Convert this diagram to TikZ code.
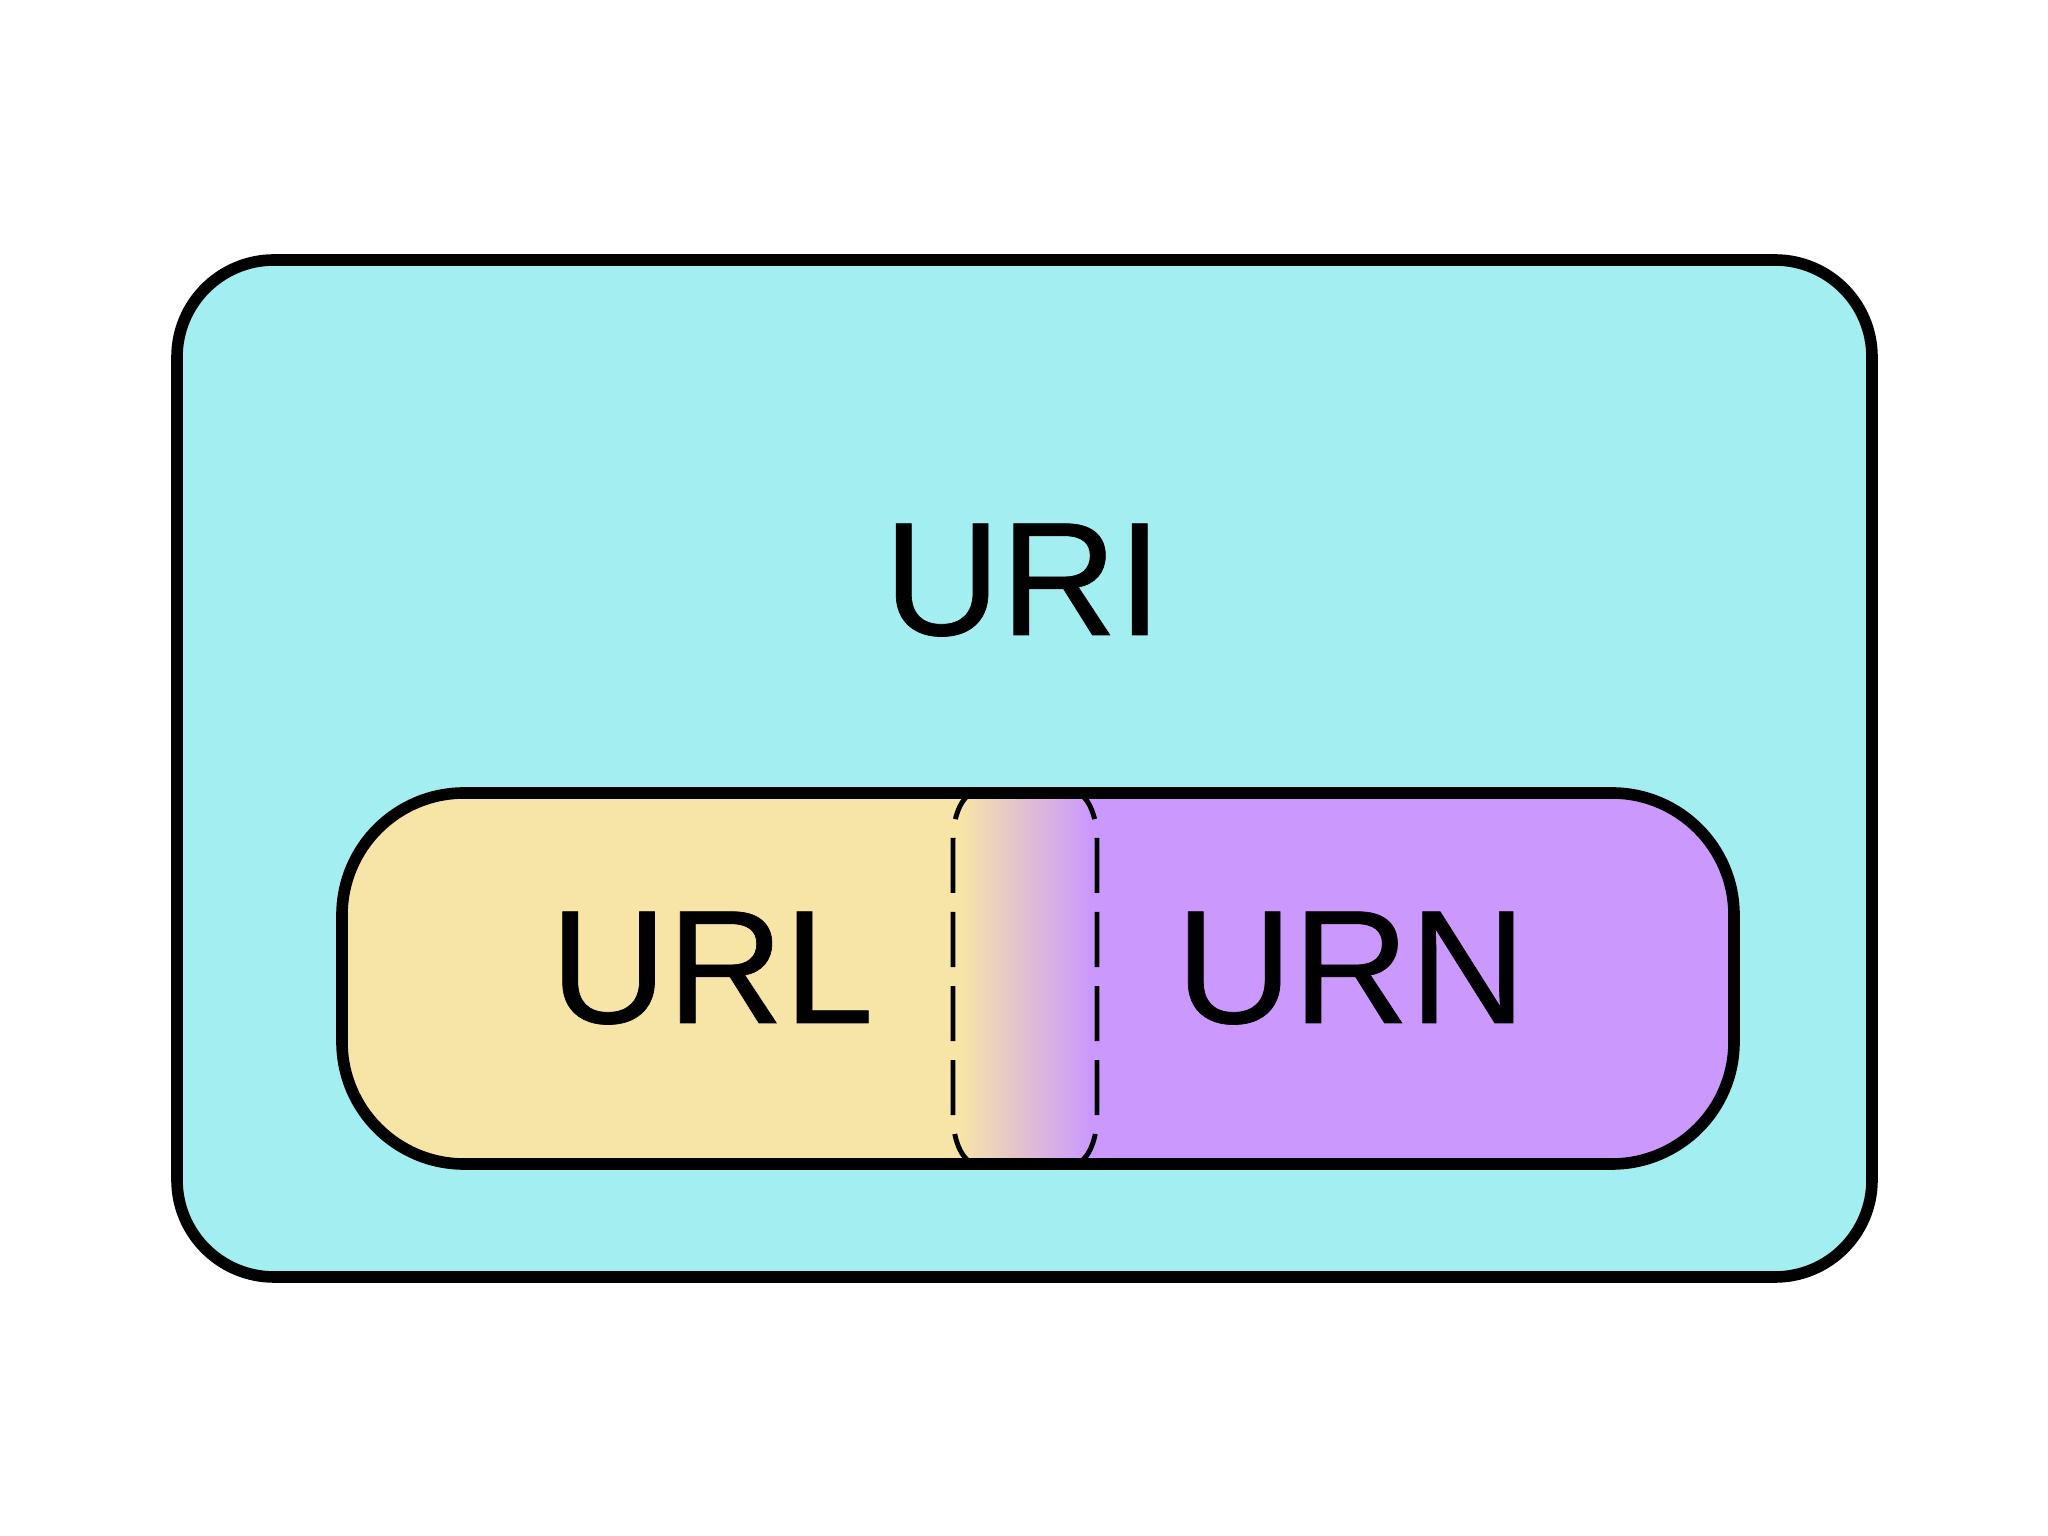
\documentclass[tikz,border=0pt]{standalone}
\usepackage{fontspec}
\setmainfont{Liberation Sans}
\newfontfamily\lblfont[FakeBold=0.4]{Liberation Sans}
\definecolor{uricyan}{HTML}{A2EEF1}
\definecolor{urlyellow}{HTML}{F6E5A6}
\definecolor{urnpurple}{HTML}{CB99FE}
\tikzset{
  outerline/.style={draw=black, line width=3.3pt},
  dashline/.style={draw=black, line width=1.4pt, dash pattern=on 0.55cm off 0.19cm, dash phase=0.18cm},
  lbl/.style={anchor=base, inner sep=0pt, font=\lblfont\fontsize{46}{54}\selectfont, text=black}
}
\begin{document}
\begin{tikzpicture}[x=0.01cm, y=0.01cm]
  \useasboundingbox[fill=white] (0,0) rectangle (2048,1536);
  % outer URI box
  \path[outerline, fill=uricyan, rounded corners=0.97cm] (177,259) rectangle (1872,1276);
  % inner pill fill
  \begin{scope}
    \clip[rounded corners=1.22cm] (342,372) rectangle (1734,743);
    \fill[urlyellow] (330,360) rectangle (961,760);
    \shade[left color=urlyellow, right color=urnpurple] (960,360) rectangle (1090,760);
    \fill[urnpurple] (1089,360) rectangle (1750,760);
  \end{scope}
  % dashed overlap region (left and right sides)
  \path[dashline] (977,744) arc[start angle=90, end angle=180, x radius=24, y radius=48]
    -- (953,420) arc[start angle=180, end angle=270, x radius=24, y radius=48];
  \path[dashline] (1073,744) arc[start angle=90, end angle=0, x radius=24, y radius=48]
    -- (1097,420) arc[start angle=0, end angle=-90, x radius=24, y radius=48];
  % inner pill outline
  \path[outerline, rounded corners=1.22cm] (342,372) rectangle (1734,743);
  % labels
  \node[lbl] (uri) at (1023,901) {URI};
  \node[lbl] (url) at (712,513) {URL};
  \node[lbl] (urn) at (1351,513) {URN};
\end{tikzpicture}
\end{document}
